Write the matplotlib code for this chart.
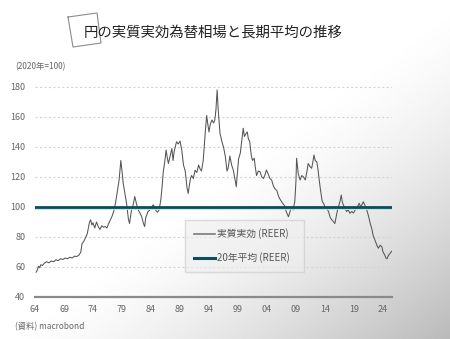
import matplotlib
matplotlib.use("Agg")
import matplotlib.pyplot as plt
import matplotlib.patheffects as pe
from matplotlib.lines import Line2D
import numpy as np

plt.rcParams["font.family"] = ["Noto Sans CJK JP", "DejaVu Sans"]

# data (decimal year, REER 2020=100)
years = [
    1964.2, 1964.4, 1964.6, 1964.8, 1965.0, 1965.3, 1965.6, 1966.0, 1966.4, 1966.8,
    1967.2, 1967.6, 1968.0, 1968.4, 1968.8, 1969.2, 1969.6, 1970.0, 1970.4, 1970.8,
    1971.2, 1971.6, 1971.9, 1972.1, 1972.4, 1972.7, 1973.0, 1973.2, 1973.4, 1973.6,
    1973.8, 1974.0, 1974.3, 1974.6, 1974.9, 1975.2, 1975.5, 1975.8, 1976.1, 1976.4,
    1976.7, 1977.0, 1977.3, 1977.6, 1977.9, 1978.1, 1978.3, 1978.5, 1978.8, 1979.0,
    1979.2, 1979.5, 1979.8, 1980.1, 1980.3, 1980.6, 1980.9, 1981.2, 1981.5, 1981.8,
    1982.1, 1982.4, 1982.7, 1982.9, 1983.1, 1983.5, 1983.8, 1984.1, 1984.4, 1984.8,
    1985.1, 1985.4, 1985.7, 1985.9, 1986.1, 1986.4, 1986.6, 1986.8, 1987.0, 1987.3,
    1987.6, 1987.8, 1988.0, 1988.4, 1988.7, 1989.0, 1989.3, 1989.6, 1989.9, 1990.2,
    1990.4, 1990.6, 1990.8, 1991.0, 1991.3, 1991.6, 1991.9, 1992.2, 1992.5, 1992.7,
    1993.0, 1993.2, 1993.4, 1993.6, 1993.8, 1994.0, 1994.2, 1994.5, 1994.8, 1995.0,
    1995.2, 1995.4, 1995.6, 1995.9, 1996.2, 1996.5, 1996.8, 1997.1, 1997.3, 1997.6,
    1997.9, 1998.2, 1998.5, 1998.7, 1998.9, 1999.1, 1999.4, 1999.7, 1999.9, 2000.1,
    2000.4, 2000.6, 2000.8, 2001.0, 2001.3, 2001.5, 2001.8, 2002.0, 2002.2, 2002.5,
    2002.8, 2003.1, 2003.4, 2003.7, 2003.9, 2004.2, 2004.5, 2004.8, 2005.1, 2005.4,
    2005.7, 2006.0, 2006.2, 2006.6, 2007.0, 2007.3, 2007.7, 2007.9, 2008.2, 2008.5,
    2008.8, 2009.0, 2009.1, 2009.4, 2009.7, 2010.0, 2010.3, 2010.6, 2010.9, 2011.1,
    2011.4, 2011.7, 2011.9, 2012.1, 2012.3, 2012.6, 2012.8, 2013.0, 2013.2, 2013.5,
    2013.8, 2014.0, 2014.3, 2014.6, 2014.9, 2015.2, 2015.5, 2015.7, 2015.9, 2016.1,
    2016.3, 2016.6, 2016.8, 2017.0, 2017.2, 2017.5, 2017.7, 2018.0, 2018.3, 2018.6,
    2018.9, 2019.2, 2019.5, 2019.9, 2020.1, 2020.3, 2020.6, 2020.9, 2021.2, 2021.5,
    2021.8, 2022.1, 2022.3, 2022.6, 2022.8, 2023.0, 2023.2, 2023.5, 2023.8, 2024.0,
    2024.3, 2024.5, 2024.7, 2024.9, 2025.2, 2025.5,
]
reer = [
    56.5, 58, 60.5, 59.5, 61.5, 61, 62.5, 63.5, 62.8, 64,
    63.5, 64.8, 64.2, 65.5, 65, 66, 65.5, 66.5, 66, 67.2,
    67, 68, 70, 75.5, 77, 79.5, 82, 86, 90, 91.5,
    88, 89.5, 86, 90, 87, 85, 87.5, 86.5, 87, 86,
    89, 91.5, 94, 97.5, 103, 108, 113, 118, 131, 124,
    116, 109, 102, 92, 89, 97, 101, 107, 102, 98,
    96, 93.5, 89, 87, 93, 97, 98, 100, 101.5, 98,
    96.5, 98, 105, 113, 123, 131, 138, 133, 129, 134,
    139, 131, 137, 143.5, 142, 144, 138, 128, 124, 113,
    109, 114, 119, 121, 119, 124.5, 123, 128, 125, 124,
    131, 142, 152, 161, 155, 150, 155, 158, 156, 158,
    165, 178, 164, 149, 144, 140, 134, 124, 126, 134,
    128, 124.5, 118, 113.5, 123, 132, 136, 146, 152.5, 147,
    149, 150, 145, 144, 134, 131, 132.5, 126, 121, 124,
    123.5, 120, 119, 122, 124.7, 122, 119, 118, 114, 112,
    111, 107, 105.5, 103, 101, 97, 93.5, 96, 100, 98,
    104, 118, 132.5, 122, 118, 121, 120, 118, 124, 129,
    127, 125.8, 130, 134.7, 131, 130, 124.7, 118, 112, 104,
    102, 100, 99, 97, 93, 91.3, 90, 89, 93, 97,
    100, 104, 108, 103, 101, 99, 97, 98, 95.8, 97,
    96, 98, 99.5, 102.5, 100.5, 101, 103.5, 101, 98, 94,
    89, 85, 81, 78, 75.8, 74, 72.5, 74.5, 73.5, 70,
    68, 66, 65.5, 67.5, 69, 70.5,
]
long_avg = 100

xticks = [1964, 1969, 1974, 1979, 1984, 1989, 1994, 1999, 2004, 2009, 2014, 2019, 2024]
xtick_labels = ["64", "69", "74", "79", "84", "89", "94", "99", "04", "09", "14", "19", "24"]
yticks = [40, 60, 80, 100, 120, 140, 160, 180]

TEAL = "#0e4b5b"
LINE = "#555555"
GRAY = "#666666"

fig = plt.figure(figsize=(4.5, 3.39), dpi=100)

# soft photo-like shading toward the lower right
bg = fig.add_axes([0, 0, 1, 1], zorder=-5)
yy, xx = np.mgrid[0:1:200j, 0:1:260j]
d = np.clip((0.55 * yy + 0.55 * xx - 0.55) / 0.55, 0, 1)
shade = 1 - 0.27 * d ** 1.4
bg.imshow(shade, cmap="gray", vmin=0, vmax=1, aspect="auto", extent=[0, 1, 0, 1])
bg.axis("off")

ax = fig.add_axes([35 / 450, 1 - 297 / 339, 357 / 450, 216 / 339])
ax.patch.set_alpha(0)
ax.plot(years, reer, color=LINE, lw=0.75, label="実質実効 (REER)")
ax.axhline(long_avg, color=TEAL, lw=2.0, label="20年平均 (REER)",
           path_effects=[pe.SimpleLineShadow(offset=(0, -1.0), shadow_color="#b8e3f0", alpha=1),
                         pe.Normal()])

ax.set_xlim(1964, 2025.55)
ax.set_ylim(40, 184)
ax.set_xticks(xticks, xtick_labels)
ax.set_yticks(yticks)
ax.tick_params(length=0, labelsize=6.5, labelcolor=GRAY, pad=7)
ax.tick_params(axis="x", pad=6)
for y in yticks[1:]:
    if y != long_avg:
        ax.axhline(y, color="#d4d4d4", lw=0.8, ls=(0, (2, 2)), zorder=0)
for s in ["top", "right", "left"]:
    ax.spines[s].set_visible(False)
ax.spines["bottom"].set_color("#8a8a8a")
ax.spines["bottom"].set_linewidth(1.6)

handles = [Line2D([], [], color="#7a7a7a", lw=1.2), Line2D([], [], color=TEAL, lw=2.2)]
leg = ax.legend(handles, ["実質実効 (REER)", "20年平均 (REER)"], loc="lower left",
                bbox_to_anchor=(0.406, 0.093, 0.361, 0.24), mode="expand",
                fontsize=7, labelspacing=1.35, handlelength=2.2, handletextpad=0.2,
                borderpad=0.9, fancybox=False, framealpha=0.6)
leg.get_frame().set_edgecolor("#c8c8c8")
leg.get_frame().set_facecolor("#eeeeee")
for t in leg.get_texts():
    t.set_color("#555555")

# title with tilted frame ornament
sq = np.array([(68, 17), (97, 13), (101, 43), (73, 47), (68, 17)], dtype=float)
fig.add_artist(Line2D(sq[:, 0] / 450, 1 - sq[:, 1] / 339, color="#8c8c8c", lw=0.8))
fig.text(213 / 450, 1 - 33 / 339, "円の実質実効為替相場と長期平均の推移", ha="center", va="center",
         fontsize=10.4, color="#222222")
fig.text(15 / 450, 1 - 67 / 339, "(2020年=100)", ha="left", va="center", fontsize=6, color=GRAY)
fig.text(15 / 450, 1 - 327 / 339, "(資料) macrobond", ha="left", va="center", fontsize=6, color=GRAY)

fig.savefig("out.png", dpi=100)
